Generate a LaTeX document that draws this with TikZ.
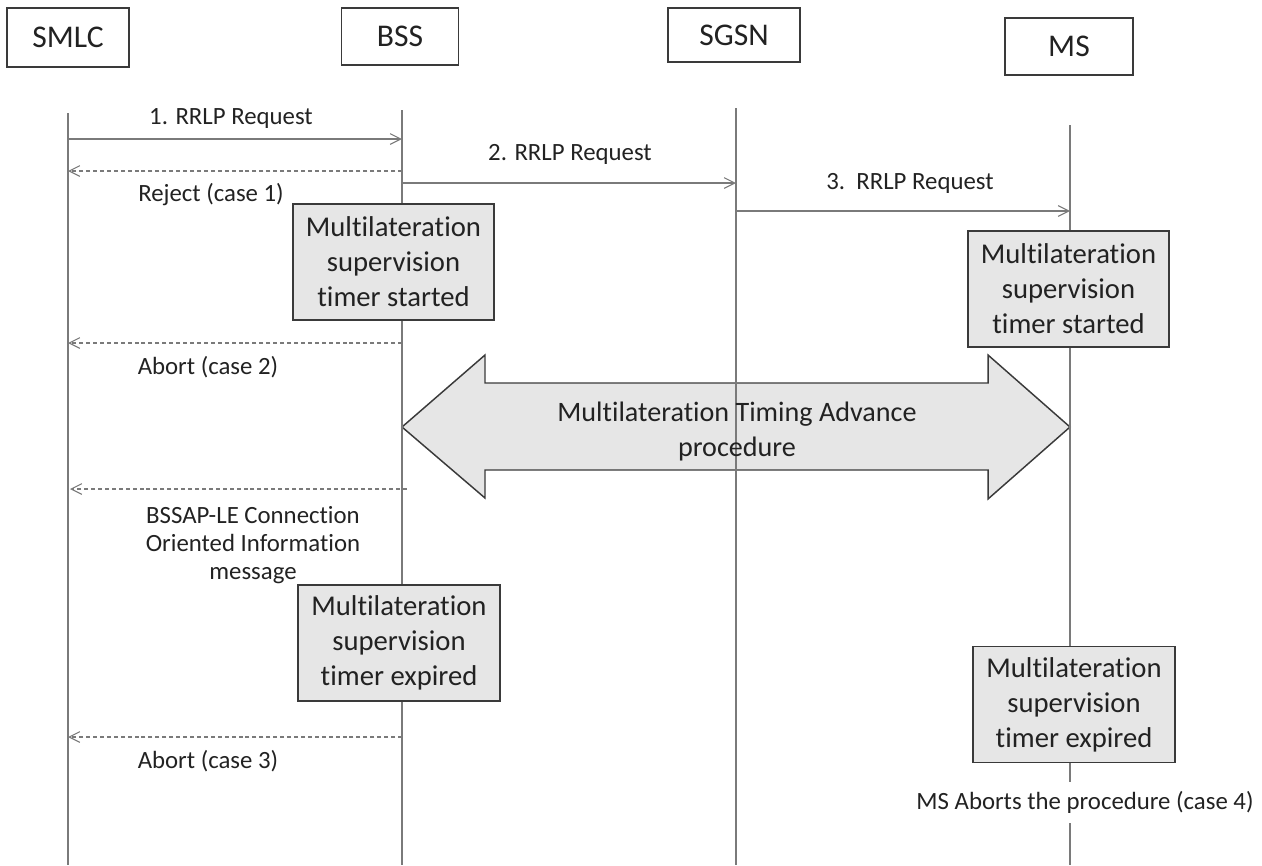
\documentclass[tikz,border=0pt]{standalone}
\usepackage{fontspec}
\setmainfont{Carlito}[Ligatures={NoCommon}]
\usetikzlibrary{arrows.meta}
\definecolor{lgray}{HTML}{7A7A7A}
\definecolor{dgray}{HTML}{3A3A3A}
\definecolor{boxgray}{HTML}{E6E6E6}
\definecolor{tgray}{HTML}{222222}
\begin{document}
\begin{tikzpicture}[x=0.75pt,y=-0.75pt,
  lifeline/.style={draw=lgray, line width=0.8pt},
  msg/.style={draw=lgray, line width=0.8pt, -{Straight Barb[length=8pt,width=8pt]}},
  reply/.style={msg, dash pattern=on 3pt off 2.2pt},
  header/.style={draw=dgray, line width=1.1pt, fill=white, inner sep=0pt, text=tgray, font=\fontsize{23.7}{28}\selectfont},
  timerbox/.style={draw=dgray, line width=1.4pt, fill=boxgray, align=center, inner sep=0pt, text=tgray,
    minimum width=151pt, minimum height=87pt, font=\fontsize{21.5}{26.25}\selectfont},
  lbl/.style={font=\fontsize{18.6}{21}\selectfont, text=tgray, align=center, inner sep=0pt},
  bigarrow/.style={draw=dgray, line width=1.1pt, fill=boxgray, line join=miter}
]
\useasboundingbox (0,0) rectangle (1262,865);

% header boxes
\node[header, minimum width=91.5pt, minimum height=44.25pt] (smlc) at (68,37.5) {SMLC};
\node[header, minimum width=87.75pt, minimum height=42.75pt] (bss) at (400,36.5) {BSS};
\node[header, minimum width=99pt, minimum height=40.5pt] (sgsn) at (734,35) {SGSN};
\node[header, minimum width=96pt, minimum height=42.75pt] (ms) at (1069,46.5) {MS};

% lifeline end points
\coordinate (smlcT) at (68,113);  \coordinate (smlcB) at (68,865);
\coordinate (bssT) at (402,110);  \coordinate (bssB) at (402,865);
\coordinate (sgsnT) at (736,108); \coordinate (sgsnB) at (736,865);
\coordinate (msT) at (1070,125);  \coordinate (msB) at (1070,865);

% big double arrow
\draw[bigarrow] (402,427) -- (485,355) -- (485,383) -- (988,383) -- (988,355) -- (1070,427)
  -- (988,499) -- (988,470) -- (485,470) -- (485,498) -- cycle;

% lifelines
\draw[lifeline] (smlcT) -- (smlcB);
\draw[lifeline] (bssT) -- (bssB);
\draw[lifeline] (sgsnT) -- (sgsnB);
\draw[lifeline] (msT) -- (msB);

\node[font=\fontsize{21.1}{26.25}\selectfont, text=tgray, align=center, inner sep=0pt] (mta) at (737,431)
  {Multilateration Timing Advance\\procedure};

% timer boxes
\node[timerbox] (t1) at (393.5,262) {Multilateration\\supervision\\timer started};
\node[timerbox] (t2) at (1068.5,289) {Multilateration\\supervision\\timer started};
\node[timerbox] (t3) at (399,643) {Multilateration\\supervision\\timer expired};
\node[timerbox] (t4) at (1074,704.5) {Multilateration\\supervision\\timer expired};

% message end points
\coordinate (m1a) at (68,139);   \coordinate (m1b) at (402,139);
\coordinate (r1a) at (402,171);  \coordinate (r1b) at (68,171);
\coordinate (m2a) at (402,183);  \coordinate (m2b) at (736,183);
\coordinate (m3a) at (736,211);  \coordinate (m3b) at (1070,211);
\coordinate (r2a) at (402,343);  \coordinate (r2b) at (68,343);
\coordinate (r3a) at (407,489);  \coordinate (r3b) at (70,489);
\coordinate (r4a) at (402,737);  \coordinate (r4b) at (68,737);

\draw[msg] (m1a) -- (m1b);
\draw[reply] (r1a) -- (r1b);
\draw[msg] (m2a) -- (m2b);
\draw[msg] (m3a) -- (m3b);
\draw[reply] (r2a) -- (r2b);
\draw[reply] (r3a) -- (r3b);
\draw[reply] (r4a) -- (r4b);

% labels
\node[lbl] (l1) at (231,119) {1. RRLP Request};
\node[lbl] (l2) at (211,195) {Reject (case 1)};
\node[lbl] (l3) at (570,154) {2. RRLP Request};
\node[lbl] (l4) at (910,183) {3.\ \ RRLP Request};
\node[lbl] (l5) at (208,367) {Abort (case 2)};
\node[lbl] (l6) at (253,545) {BSSAP-LE Connection\\Oriented Information\\message};
\node[lbl] (l7) at (208,761) {Abort (case 3)};
\node[lbl, fill=white, minimum height=30.75pt] (l8) at (1085,802) {MS Aborts the procedure (case 4)};
\end{tikzpicture}
\end{document}
